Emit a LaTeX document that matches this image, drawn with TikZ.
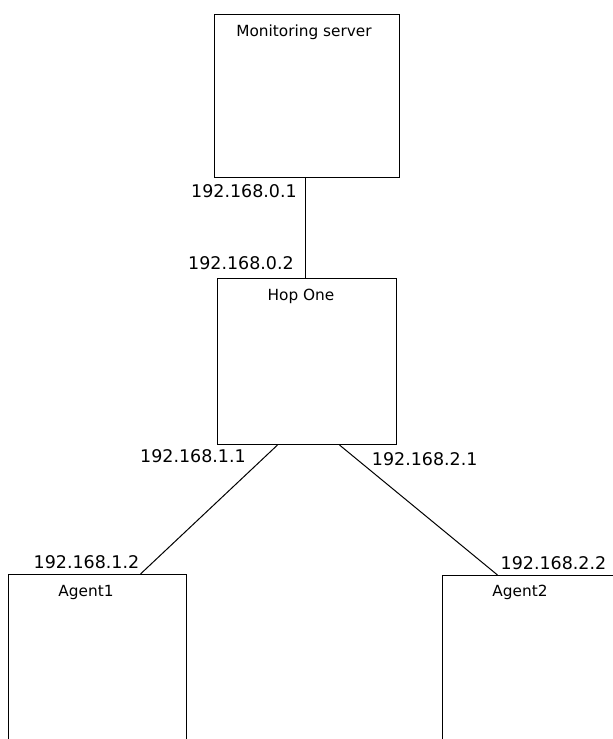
\documentclass[tikz,border=0pt]{standalone}
\usepackage{fontspec}
\setmainfont{DejaVu Sans}
\usetikzlibrary{calc}
\begin{document}
\begin{tikzpicture}[x=0.75pt,y=-0.75pt,
  box/.style={draw,line width=0.75pt,inner sep=0,anchor=north west},
  ip/.style={font=\fontsize{13.1}{15}\selectfont,inner sep=0},
  boxname/.style={font=\fontsize{11.5}{14}\selectfont,inner sep=0},
  link/.style={line width=0.75pt}]
\useasboundingbox (0,0) rectangle (613,739);
\clip (0,0) rectangle (613,739);
\node[box,minimum width=138.75pt,minimum height=122.25pt] (mon) at (214,14) {};
\node[box,minimum width=134.25pt,minimum height=124.5pt] (hop) at (217,278) {};
\node[box,minimum width=133.5pt,minimum height=150pt] (ag1) at (8,574) {};
\node[box,minimum width=150pt,minimum height=150pt] (ag2) at (442,575) {};
\node[boxname] (tmon) at (304,32) {Monitoring server};
\node[boxname] (thop) at (301,296) {Hop One};
\node[boxname] (tag1) at (86,592) {Agent1};
\node[boxname] (tag2) at (520,592) {Agent2};
\node[ip] (ip01) at (244,191) {192.168.0.1};
\node[ip] (ip02) at (241,263) {192.168.0.2};
\node[ip] (ip11) at (193,456.5) {192.168.1.1};
\node[ip] (ip21) at (424.7,459) {192.168.2.1};
\node[ip] (ip12) at (86.5,562) {192.168.1.2};
\node[ip] (ip22) at (553.5,563) {192.168.2.2};
\coordinate (m1) at ($(mon.south)+(-2,0)$);
\draw[link] (m1) -- (m1 |- hop.north);
\draw[link] ($(hop.south)+(-29.5,0)$) -- ($(ag1.north)+(43,0)$);
\draw[link] ($(hop.south)+(32.5,0)$) -- ($(ag2.north)+(-45,0)$);
\end{tikzpicture}
\end{document}
